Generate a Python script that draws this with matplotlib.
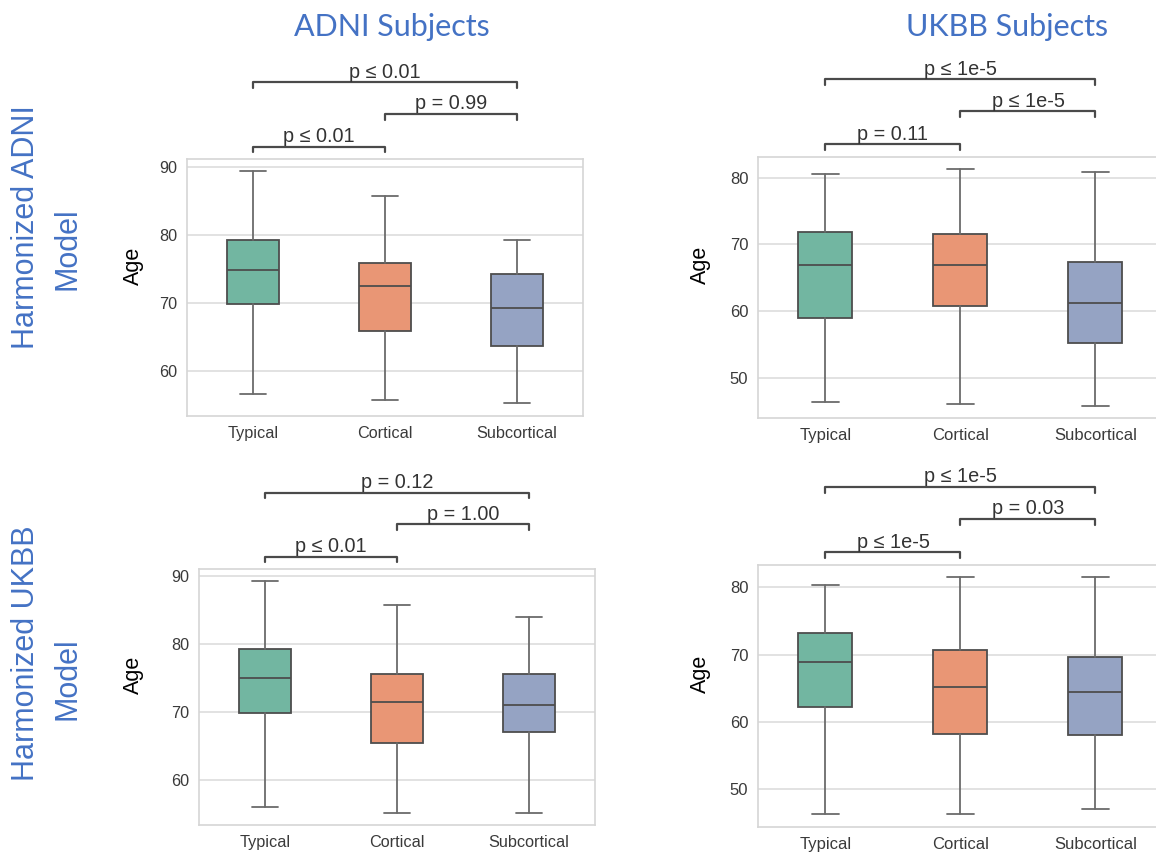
import numpy as np
import matplotlib
matplotlib.use("Agg")
import matplotlib.pyplot as plt
import seaborn as sns

groups = ["Typical", "Cortical", "Subcortical"]

# box stats per panel: whisker low, Q1, median, Q3, whisker high
adni_adni_lo = [56.6, 55.7, 55.3]
adni_adni_q1 = [69.9, 65.9, 63.7]
adni_adni_med = [74.85, 72.5, 69.3]
adni_adni_q3 = [79.3, 75.9, 74.3]
adni_adni_hi = [89.4, 85.7, 79.3]

adni_ukbb_lo = [46.4, 46.1, 45.8]
adni_ukbb_q1 = [58.95, 60.75, 55.2]
adni_ukbb_med = [66.9, 66.9, 61.2]
adni_ukbb_q3 = [71.8, 71.5, 67.3]
adni_ukbb_hi = [80.6, 81.35, 80.9]

ukbb_adni_lo = [56.1, 55.1, 55.1]
ukbb_adni_q1 = [69.85, 65.45, 67.1]
ukbb_adni_med = [75.0, 71.5, 71.0]
ukbb_adni_q3 = [79.3, 75.6, 75.6]
ukbb_adni_hi = [89.3, 85.7, 83.9]

ukbb_ukbb_lo = [46.3, 46.3, 47.0]
ukbb_ukbb_q1 = [62.2, 58.2, 58.0]
ukbb_ukbb_med = [68.9, 65.2, 64.5]
ukbb_ukbb_q3 = [73.2, 70.7, 69.6]
ukbb_ukbb_hi = [80.3, 81.5, 81.5]

# p-values: (Typical-Cortical, Cortical-Subcortical, Typical-Subcortical)
p_tl = ["p ≤ 0.01", "p = 0.99", "p ≤ 0.01"]
p_tr = ["p = 0.11", "p ≤ 1e-5", "p ≤ 1e-5"]
p_bl = ["p ≤ 0.01", "p = 1.00", "p = 0.12"]
p_br = ["p ≤ 1e-5", "p = 0.03", "p ≤ 1e-5"]

col_titles = ["ADNI Subjects", "UKBB Subjects"]
row_titles = [("Harmonized ADNI", "Model"), ("Harmonized UKBB", "Model")]

sns.set_style("whitegrid")
plt.rcParams["font.family"] = ["Liberation Sans", "DejaVu Sans"]

colors = sns.color_palette("Set2", 3, desat=0.75)
blue = "#4472C4"

fig = plt.figure(figsize=(11.56, 8.57), dpi=100)


def panel(rect, lo, q1, med, q3, hi, pvals, ylim, yticks, fs, lab_x):
    ax = fig.add_axes(rect)
    stats = []
    for i in range(len(groups)):
        stats.append(dict(whislo=lo[i], q1=q1[i], med=med[i], q3=q3[i],
                          whishi=hi[i], fliers=[], label=groups[i]))
    bp = ax.bxp(stats, positions=range(len(groups)), widths=0.4,
                patch_artist=True, showfliers=False,
                boxprops=dict(edgecolor="#4d4d4d", linewidth=1.3),
                medianprops=dict(color="#4d4d4d", linewidth=1.3),
                whiskerprops=dict(color="#6b6b6b", linewidth=1.3),
                capprops=dict(color="#6b6b6b", linewidth=1.3))
    for patch, c in zip(bp["boxes"], colors):
        patch.set_facecolor(c)
    ax.set_xlim(-0.5, 2.5)
    ax.set_ylim(*ylim)
    ax.set_yticks(yticks)
    ax.set_xticks(range(len(groups)))
    ax.set_xticklabels(groups)
    ax.grid(axis="x", visible=False)
    ax.grid(axis="y", color="#dddddd", linewidth=1.2)
    for s in ax.spines.values():
        s.set_color("#d5d5d5")
        s.set_linewidth(1.2)
    ax.tick_params(axis="both", labelsize=fs, colors="#3a3a3a", length=0, pad=7)
    ax.set_ylabel("Age", fontsize=15.5, color="black")
    ax.yaxis.set_label_coords(lab_x, 0.585)

    # significance brackets
    trans = ax.get_xaxis_transform()
    pairs = [(0, 1, 1.048), (1, 2, 1.175), (0, 2, 1.298)]
    for (a, b, y), txt in zip(pairs, pvals):
        ax.plot([a, a, b, b], [y - 0.022, y, y, y - 0.022], transform=trans,
                color="#4a4a4a", linewidth=1.6, clip_on=False)
        ax.annotate(txt, xy=((a + b) / 2, y), xycoords=trans,
                    xytext=(0, 0.5), textcoords="offset points",
                    ha="center", va="bottom", fontsize=14.3, color="#333333")
    return ax


panel([0.1618, 0.5146, 0.3426, 0.2999], adni_adni_lo, adni_adni_q1, adni_adni_med,
      adni_adni_q3, adni_adni_hi, p_tl, (53.4, 91.2), [60, 70, 80, 90], 11.7, -0.109)
panel([0.6557, 0.5123, 0.3503, 0.3045], adni_ukbb_lo, adni_ukbb_q1, adni_ukbb_med,
      adni_ukbb_q3, adni_ukbb_hi, p_tr, (44.0, 83.1), [50, 60, 70, 80], 12, -0.116)
panel([0.1721, 0.0373, 0.3426, 0.2987], ukbb_adni_lo, ukbb_adni_q1, ukbb_adni_med,
      ukbb_adni_q3, ukbb_adni_hi, p_bl, (53.4, 91.0), [60, 70, 80, 90], 11.7, -0.139)
panel([0.6557, 0.0350, 0.3503, 0.3057], ukbb_ukbb_lo, ukbb_ukbb_q1, ukbb_ukbb_med,
      ukbb_ukbb_q3, ukbb_ukbb_hi, p_br, (44.4, 83.3), [50, 60, 70, 80], 12, -0.116)

# column and row headers
for x, t in zip([0.339, 0.871], col_titles):
    fig.text(x, 0.968, t, ha="center", va="center", fontsize=22,
             color=blue, family=["Lato", "DejaVu Sans"])

for (yc1, yc2), (l1, l2) in zip([(1 - 227 / 857, 1 - 249 / 857),
                                 (1 - 653 / 857, 1 - 679 / 857)], row_titles):
    fig.text(26 / 1156, yc1, l1, rotation=90, ha="center", va="center",
             fontsize=22, color=blue)
    fig.text(68 / 1156, yc2, l2, rotation=90, ha="center", va="center",
             fontsize=22, color=blue)

fig.savefig("out.png", dpi=100)
